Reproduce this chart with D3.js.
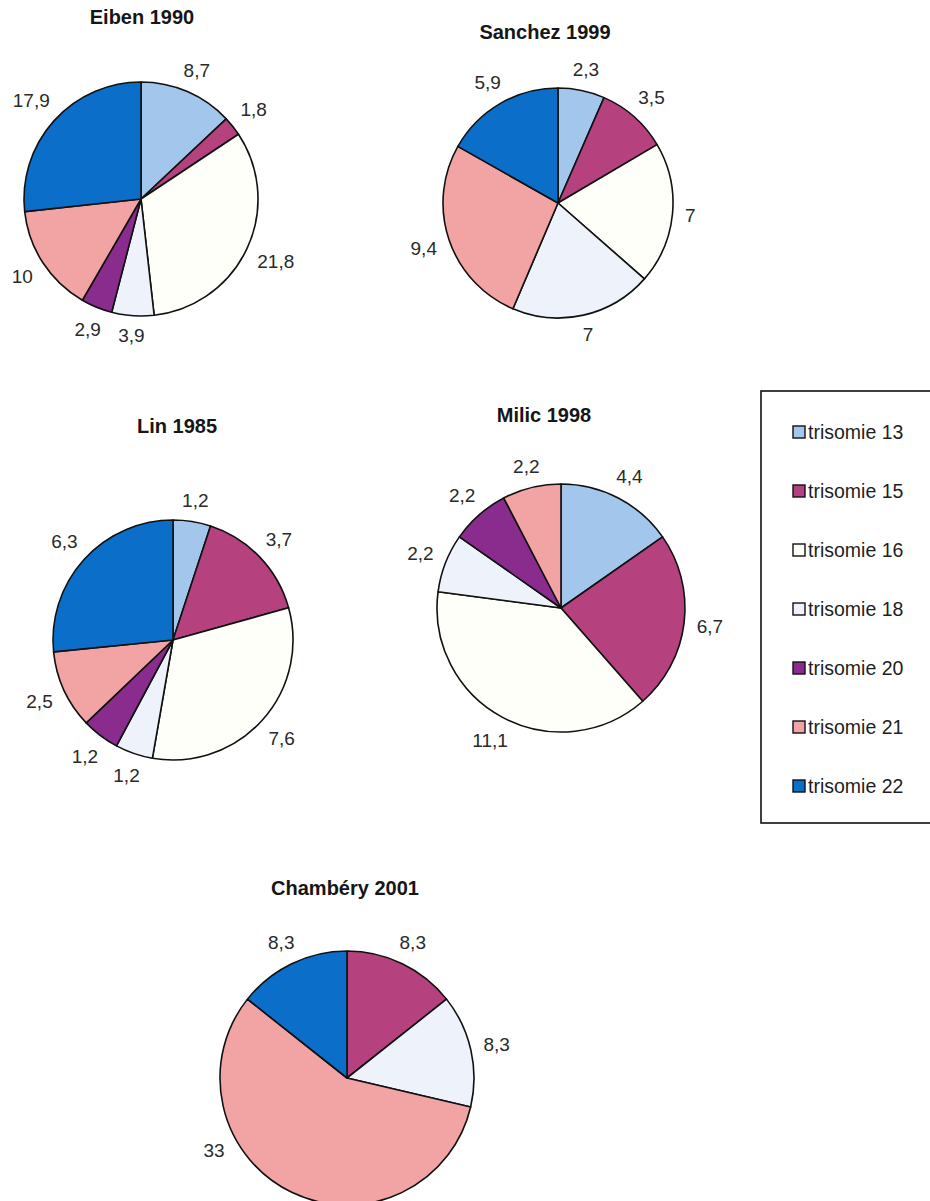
<!DOCTYPE html>
<meta charset="utf-8">

<script src="https://d3js.org/d3.v7.min.js"></script>

<style type="text/css">

body {
    margin: 0;
    background: #fff;
}

.pieTitle {
    font-family: "Liberation Sans", Arial, sans-serif;
    font-weight: bold;
    font-size: 20px;
    fill: #161616;
}

.pieLabel {
    font-family: "Liberation Sans", Arial, sans-serif;
    font-size: 19px;
    fill: #2a2a2a;
}

.legend text {
    font-family: "Liberation Sans", Arial, sans-serif;
    font-size: 19.5px;
    fill: #1e1e1e;
}

</style>

<body>
</body>

<script>

// categories, in the order the slices run clockwise from 12 o'clock
var categories = ["trisomie 13", "trisomie 15", "trisomie 16", "trisomie 18",
                  "trisomie 20", "trisomie 21", "trisomie 22"];

var colors = ["#a3c6ec", "#b5417f", "#fffffa", "#edf2fb", "#8a2c8e", "#f2a3a3", "#0b6fca"];

// values per study (0 = no slice)
var eiben1990    = [8.7, 1.8, 21.8, 3.9, 2.9, 10, 17.9];
var sanchez1999  = [2.3, 3.5, 7, 7, 0, 9.4, 5.9];
var lin1985      = [1.2, 3.7, 7.6, 1.2, 1.2, 2.5, 6.3];
var milic1998    = [4.4, 6.7, 11.1, 2.2, 2.2, 2.2, 0];
var chambery2001 = [0, 8.3, 0, 8.3, 0, 33, 8.3];

var titles = ["Eiben 1990", "Sanchez 1999", "Lin 1985", "Milic 1998", "Chambéry 2001"];

// layout of each pie on the page
var pies = [
    {values: eiben1990,    cx: 141, cy: 199,  r: 117, tx: 142, ty: 24},
    {values: sanchez1999,  cx: 558, cy: 203,  r: 115, tx: 545, ty: 39},
    {values: lin1985,      cx: 173, cy: 640,  r: 120, tx: 177, ty: 433},
    {values: milic1998,    cx: 561, cy: 608,  r: 124, tx: 544, ty: 422},
    {values: chambery2001, cx: 347, cy: 1078, r: 127, tx: 345, ty: 895}
];

var width = 930,
    height = 1201;

var svg = d3.select("body").append("svg")
    .attr("width", width)
    .attr("height", height);

var pie = d3.pie()
    .sort(null)
    .value(function(d) { return d.value; });

var fmt = function(v) { return String(v).replace(".", ","); };

pies.forEach(function(p, i) {

    var rows = p.values.map(function(v, k) { return {value: v, cat: k}; });
    var arcs = pie(rows).filter(function(d) { return d.data.value > 0; });

    var arc = d3.arc().innerRadius(0).outerRadius(p.r);

    var g = svg.append("g")
        .attr("transform", "translate(" + p.cx + "," + p.cy + ")");

    g.selectAll(".slice")
        .data(arcs)
        .enter()
        .append("path")
        .attr("class", "slice")
        .attr("d", arc)
        .style("fill", function(d) { return colors[d.data.cat]; })
        .style("stroke", "#111")
        .style("stroke-width", 1.6)
        .style("stroke-linejoin", "round");

    // labels sit just outside the rim, pushed out by their own size
    g.selectAll(".pieLabel")
        .data(arcs)
        .enter()
        .append("text")
        .attr("class", "pieLabel")
        .attr("text-anchor", "middle")
        .attr("dy", "0.35em")
        .text(function(d) { return fmt(d.data.value); })
        .each(function(d) {
            var a = (d.startAngle + d.endAngle) / 2;
            var w = this.getComputedTextLength();
            var pos = function(a) {
                var dx = Math.sin(a), dy = -Math.cos(a);
                var dist = p.r + 12 + Math.abs(dx) * w / 2 + Math.abs(dy) * 7;
                return [dx * dist, dy * dist];
            };
            var xy = pos(a);
            // label off the bottom of the page: swing it up along the rim
            while (p.cy + xy[1] + 10 > height - 40) {
                a += (a > Math.PI ? 0.02 : -0.02);
                xy = pos(a);
            }
            d3.select(this)
                .attr("x", xy[0])
                .attr("y", xy[1]);
        });

    svg.append("text")
        .attr("class", "pieTitle")
        .attr("x", p.tx)
        .attr("y", p.ty)
        .attr("text-anchor", "middle")
        .text(titles[i]);
});

// legend
var legend = svg.append("g")
    .attr("class", "legend");

legend.append("rect")
    .attr("x", 761)
    .attr("y", 391)
    .attr("width", 200)
    .attr("height", 432)
    .style("fill", "#fff")
    .style("stroke", "#111")
    .style("stroke-width", 1.6);

var legendY = d3.scalePoint()
    .domain(categories)
    .range([432, 786]);

var legendItem = legend.selectAll(".legendItem")
    .data(categories)
    .enter()
    .append("g")
    .attr("class", "legendItem")
    .attr("transform", function(d) { return "translate(0," + legendY(d) + ")"; });

legendItem.append("rect")
    .attr("x", 793)
    .attr("y", -6)
    .attr("width", 12)
    .attr("height", 12)
    .style("fill", function(d, i) { return colors[i]; })
    .style("stroke", "#111")
    .style("stroke-width", 1.4);

legendItem.append("text")
    .attr("x", 808)
    .attr("dy", "0.36em")
    .text(function(d) { return d; });

</script>
